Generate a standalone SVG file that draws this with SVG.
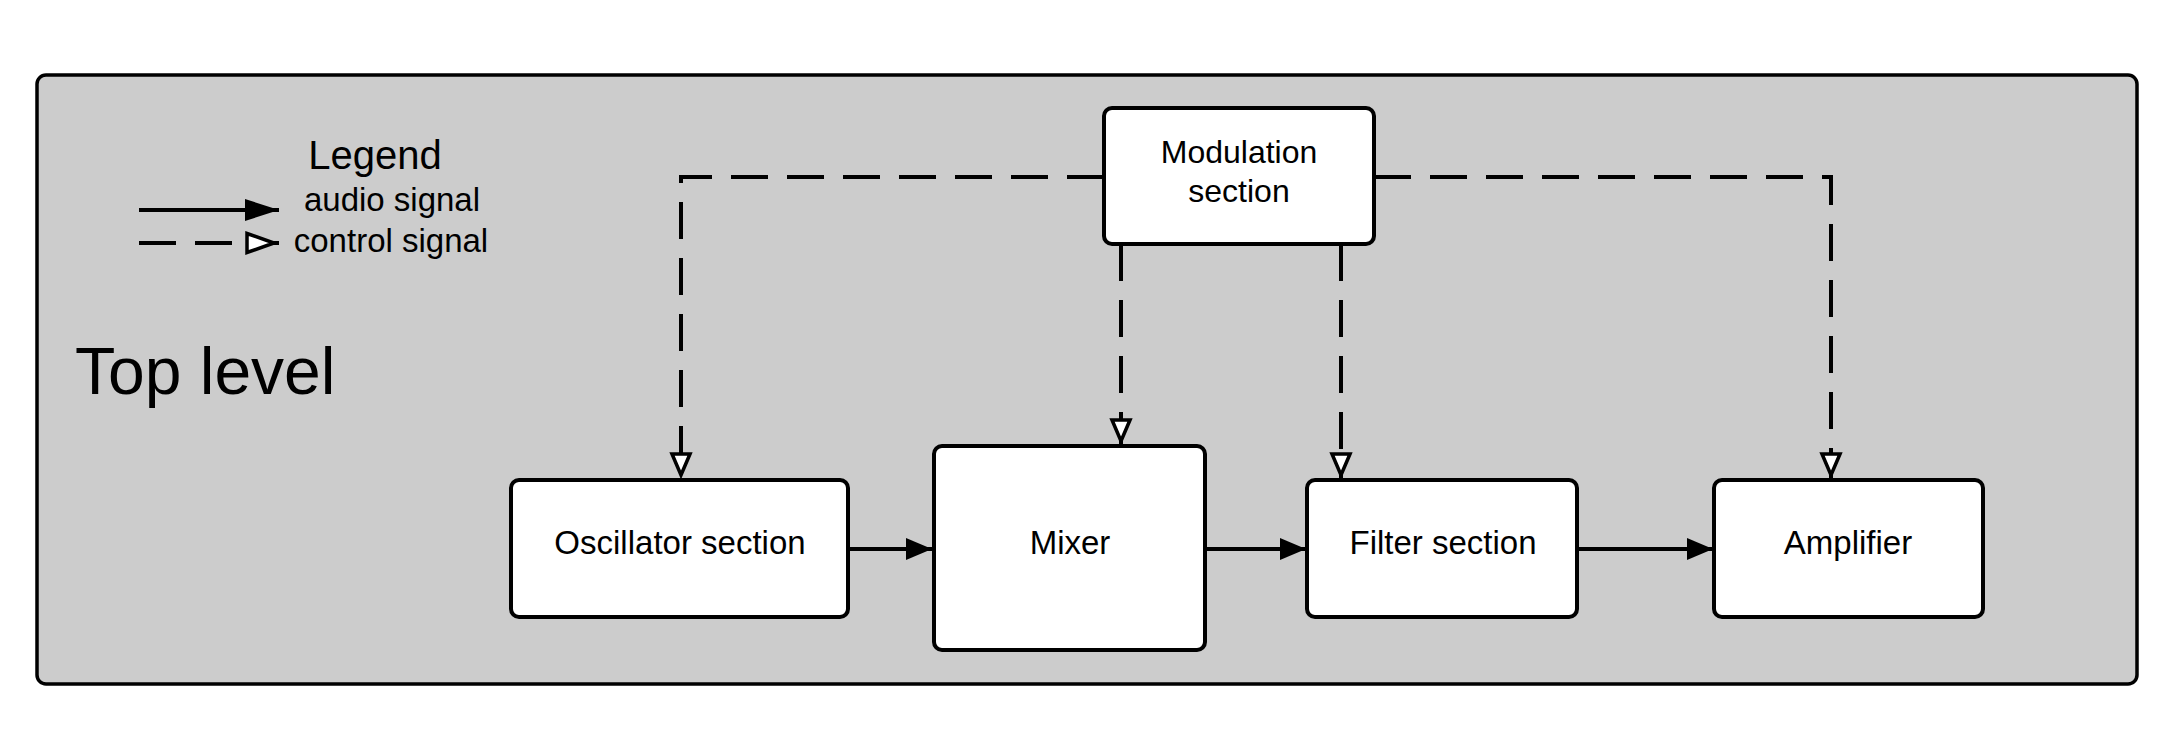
<svg xmlns="http://www.w3.org/2000/svg" width="2180" height="750" viewBox="0 0 2180 750">
<style>
.frame{fill:#cccccc;stroke:#000;stroke-width:3.5}
.box{fill:#fff;stroke:#000;stroke-width:4}
.t{font-family:"Liberation Sans",Arial,sans-serif;fill:#000;text-anchor:middle}
.audio{fill:none;stroke:#000;stroke-width:4}
.ctrl{fill:none;stroke:#000;stroke-width:4;stroke-dasharray:37 19}
</style>
<defs>
<marker id="solid" markerUnits="userSpaceOnUse" markerWidth="28" markerHeight="24" refX="26" refY="11" orient="auto" overflow="visible">
<path d="M0,0 L26,11 L0,22 Z" fill="#000"/>
</marker>
<marker id="hollow" markerUnits="userSpaceOnUse" markerWidth="30" markerHeight="24" refX="27" refY="11" orient="auto" overflow="visible">
<path d="M2,2 L23,11 L2,20 Z" fill="#fff" stroke="#000" stroke-width="3.5" stroke-dasharray="none"/>
</marker>
<marker id="solidL" markerUnits="userSpaceOnUse" markerWidth="36" markerHeight="24" refX="34" refY="11" orient="auto" overflow="visible">
<path d="M0,0 L34,11 L0,22 Z" fill="#000"/>
</marker>
<marker id="hollowL" markerUnits="userSpaceOnUse" markerWidth="36" markerHeight="24" refX="34" refY="11.5" orient="auto" overflow="visible">
<path d="M2,2 L29,11.5 L2,21 Z" fill="#fff" stroke="#000" stroke-width="3.5" stroke-dasharray="none"/>
</marker>
</defs>
<rect class="frame" x="37" y="75" width="2100" height="609" rx="9"/>
<g id="legend">
<text class="t" x="375" y="169" font-size="40">Legend</text>
<text class="t" x="392" y="211" font-size="33">audio signal</text>
<text class="t" x="391" y="252" font-size="33">control signal</text>
<line class="audio" x1="139" y1="210" x2="279" y2="210" marker-end="url(#solidL)"/>
<line class="ctrl" x1="139" y1="243" x2="279" y2="243" marker-end="url(#hollowL)"/>
</g>
<text class="t" x="75" y="394" font-size="66" style="text-anchor:start">Top level</text>
<g id="connectors">
<line class="audio" x1="849" y1="549" x2="932" y2="549" marker-end="url(#solid)"/>
<line class="audio" x1="1205" y1="549" x2="1306" y2="549" marker-end="url(#solid)"/>
<line class="audio" x1="1577" y1="549" x2="1713" y2="549" marker-end="url(#solid)"/>
<path class="ctrl" d="M1104,177 L681,177 L681,479" marker-end="url(#hollow)"/>
<path class="ctrl" d="M1121,244 L1121,445" marker-end="url(#hollow)"/>
<path class="ctrl" d="M1341,244 L1341,479" marker-end="url(#hollow)"/>
<path class="ctrl" d="M1374,177 L1831,177 L1831,479" marker-end="url(#hollow)"/>
</g>
<g id="modulation">
<rect class="box" x="1104" y="108" width="270" height="136" rx="8"/>
<text class="t" x="1239" y="163" font-size="32">Modulation</text>
<text class="t" x="1239" y="202" font-size="32">section</text>
</g>
<g id="oscillator">
<rect class="box" x="511" y="480" width="337" height="137" rx="8"/>
<text class="t" x="680" y="554" font-size="33">Oscillator section</text>
</g>
<g id="mixer">
<rect class="box" x="934" y="446" width="271" height="204" rx="8"/>
<text class="t" x="1070" y="554" font-size="33">Mixer</text>
</g>
<g id="filter">
<rect class="box" x="1307" y="480" width="270" height="137" rx="8"/>
<text class="t" x="1443" y="554" font-size="33">Filter section</text>
</g>
<g id="amplifier">
<rect class="box" x="1714" y="480" width="269" height="137" rx="8"/>
<text class="t" x="1848" y="554" font-size="33">Amplifier</text>
</g>
</svg>
